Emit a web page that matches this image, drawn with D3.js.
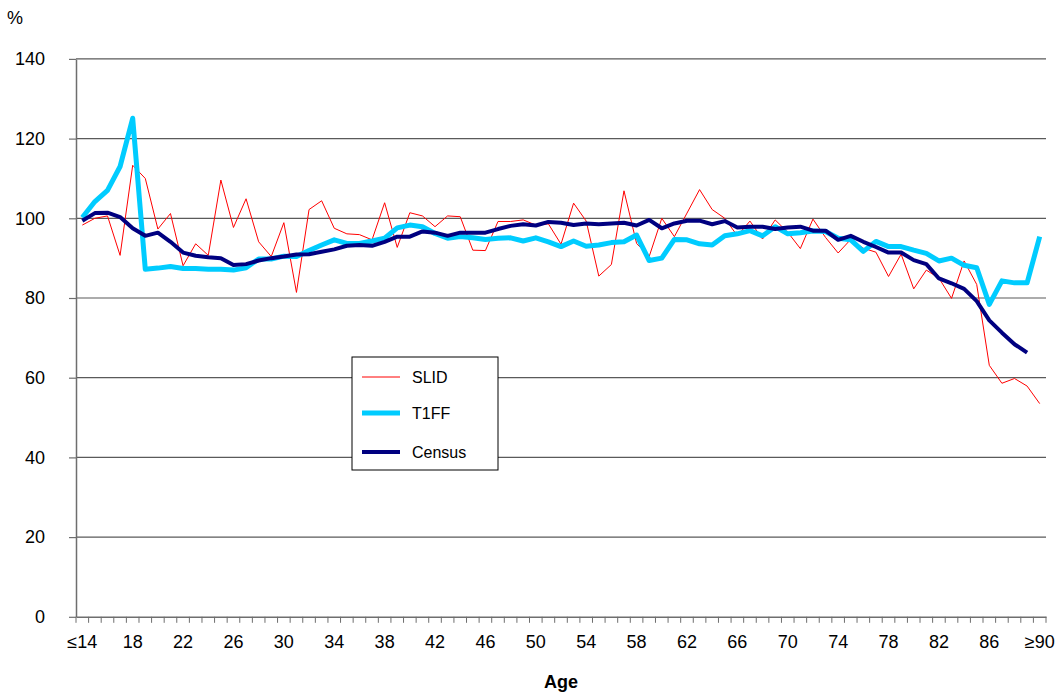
<!DOCTYPE html>
<html>
<head>
<meta charset="utf-8">
<script src="https://cdn.jsdelivr.net/npm/d3@7"></script>
<style>
body{margin:0;background:#fff;}
svg{font-family:"Liberation Sans",Arial,sans-serif;}
</style>
</head>
<body>
<div id="chart"></div>
<script>
// ages 14..90, first and last are open groups
var ages = d3.range(14, 91).map(function(a){ return a==14 ? "≤14" : a==90 ? "≥90" : ""+a; });

var slid = [98.3,100,100.6,90.7,113.3,110,97.3,101.2,88.1,93.6,90.7,109.6,97.7,104.9,94.1,90.4,98.9,81.4,102.2,104.4,97.5,96.1,95.9,94.6,103.9,92.7,101.4,100.6,97.9,100.6,100.4,92,91.9,99.2,99.2,99.6,98.3,98.6,93.5,103.8,99.3,85.5,88.4,106.9,93.7,90.4,100,95.4,101.3,107.2,102.2,100,95.6,99.3,94.8,99.6,96.5,92.4,99.8,95.2,91.3,94.7,92.5,91.5,85.4,91,82.3,87,85,79.9,89.3,83.4,63.1,58.6,59.8,57.9,53.5];

var t1ff = [100.2,104.2,107,113,125.1,87.2,87.5,87.9,87.4,87.4,87.2,87.2,87,87.6,89.8,89.8,90.5,90.4,91.9,93.3,94.6,93.7,93.7,94.3,95,97.6,98.3,97.9,96.2,95,95.4,95.1,94.7,95,95.1,94.3,95.1,94.1,92.9,94.3,93,93.3,93.9,94.1,95.8,89.4,90,94.7,94.6,93.6,93.3,95.6,96.1,96.9,95.6,97.9,96.1,96.4,96.8,96.7,95,94.6,91.7,94.2,92.9,92.9,92,91.2,89.3,90,88.2,87.6,78.4,84.3,83.8,83.8,95.4];

var census = [99.4,101.3,101.4,100.3,97.5,95.6,96.4,94.1,91.4,90.6,90.2,90,88.3,88.5,89.4,90,90.4,90.9,91,91.6,92.2,93.1,93.3,93.1,94.1,95.4,95.4,96.7,96.4,95.6,96.4,96.4,96.4,97.3,98.1,98.5,98.2,99.1,98.9,98.3,98.7,98.5,98.7,98.9,98.2,99.6,97.5,98.7,99.4,99.4,98.5,99.3,97.7,97.9,97.9,97.3,97.7,97.9,96.9,96.9,94.6,95.6,94.1,92.8,91.4,91.4,89.5,88.5,84.9,83.7,82.3,79.2,74.4,71.3,68.4,66.3];

var yTicks = [0,20,40,60,80,100,120,140];
var seriesNames = ["SLID","T1FF","Census"];

var W = 1057, H = 694;
var plotL = 76, plotR = 1046, plotT = 58.9, plotB = 616.8;

var svg = d3.select("#chart").append("svg")
	.attr("width", W)
	.attr("height", H);

var x = d3.scaleBand().domain(ages).range([plotL, plotR]).padding(0);
var y = d3.scaleLinear().domain([0, 140]).range([plotB, plotT]);

// gridlines
svg.append("g")
	.selectAll("line")
	.data(yTicks.slice(1))
	.enter()
	.append("line")
	.attr("x1", plotL)
	.attr("x2", plotR)
	.attr("y1", d=> y(d))
	.attr("y2", d=> y(d))
	.attr("stroke", "#5a5a5a")
	.attr("stroke-width", 1.2);

// y axis
var yAxis = svg.append("g")
	.attr("transform", "translate(" + plotL + ",0)")
	.call(d3.axisLeft(y).tickValues(yTicks).tickSize(7).tickPadding(24).tickSizeOuter(0));
yAxis.select(".domain").attr("stroke", "#6e6e6e").attr("stroke-width", 1.5);
yAxis.selectAll(".tick line").attr("stroke", "#6e6e6e").attr("stroke-width", 1.2);
yAxis.selectAll("text").attr("font-size", 18).attr("fill", "#000").attr("font-family", "Liberation Sans, Arial, sans-serif");

// x axis : labels every 4th category, ticks between categories
var xAxis = svg.append("g")
	.attr("transform", "translate(0," + plotB + ")")
	.call(d3.axisBottom(x)
		.tickValues(ages.filter(function(d, i){ return i % 4 == 0; }))
		.tickSize(0).tickPadding(18).tickSizeOuter(0));
xAxis.select(".domain").attr("stroke", "#6e6e6e").attr("stroke-width", 1.5);
xAxis.selectAll("text").attr("font-size", 18).attr("fill", "#000").attr("font-family", "Liberation Sans, Arial, sans-serif");

var bounds = ages.map(d=> x(d)).concat([x(ages[ages.length-1]) + x.bandwidth()]);
xAxis.selectAll("line.bt")
	.data(bounds)
	.enter()
	.append("line")
	.attr("class", "bt")
	.attr("x1", d=> d)
	.attr("x2", d=> d)
	.attr("y1", 0)
	.attr("y2", 6)
	.attr("stroke", "#6e6e6e")
	.attr("stroke-width", 1);

var cx = function(d, i){ return x(ages[i]) + x.bandwidth()/2; };

function drawLine(vals, color, width){
	svg.append("path")
		.datum(vals)
		.attr("fill", "none")
		.attr("stroke", color)
		.attr("stroke-width", width)
		.attr("stroke-linejoin", "round")
		.attr("d", d3.line().x(cx).y(d=> y(d)));
}

drawLine(slid, "#ff0000", 1);
drawLine(t1ff, "#00ccff", 5);
drawLine(census, "#000080", 4);

// titles
svg.append("text").attr("x", 15).attr("y", 24).attr("text-anchor", "middle")
	.attr("font-size", 18).text("%");
svg.append("text").attr("x", (plotL + plotR)/2).attr("y", 688).attr("text-anchor", "middle")
	.attr("font-size", 18).attr("font-weight", "bold").text("Age");

// legend
var lg = svg.append("g").attr("transform", "translate(352,357)");
lg.append("rect").attr("width", 146).attr("height", 113)
	.attr("fill", "#fff").attr("stroke", "#000").attr("stroke-width", 1);
var lgColors = ["#ff0000", "#00ccff", "#000080"];
var lgWidths = [1, 5, 4];
var lgY = [20, 56, 95];
seriesNames.forEach(function(n, i){
	lg.append("line").attr("x1", 10).attr("x2", 48).attr("y1", lgY[i]).attr("y2", lgY[i])
		.attr("stroke", lgColors[i]).attr("stroke-width", lgWidths[i]);
	lg.append("text").attr("x", 60).attr("y", lgY[i] + 6).attr("font-size", 16).text(n);
});
</script>
</body>
</html>
